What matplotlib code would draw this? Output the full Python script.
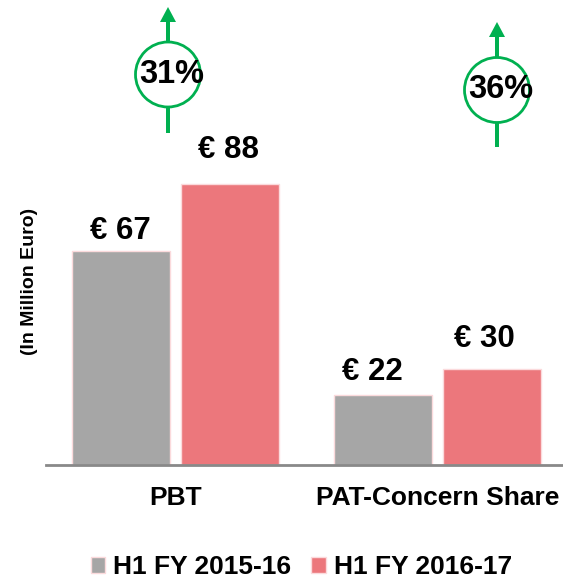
import matplotlib
matplotlib.use("Agg")
import matplotlib.pyplot as plt
from matplotlib.patches import Circle, Patch
import numpy as np

# данные графика
categories = ["PBT", "PAT-Concern Share"]
series_names = ["H1 FY 2015-16", "H1 FY 2016-17"]
values_prev = [67, 22]
values_curr = [88, 30]
growth_labels = ["31%", "36%"]

GREY = "#A6A6A6"
RED = "#EC777C"
GREEN = "#00B050"
EDGE = "#FBDADC"

plt.rcParams["font.family"] = ["Liberation Sans", "DejaVu Sans"]
plt.rcParams["font.weight"] = "bold"

fig = plt.figure(figsize=(5.63, 5.81), dpi=100)
ax = fig.add_axes([46 / 563, 116 / 581, 1 - 46 / 563, 319 / 581])

x = np.arange(len(categories))
w = 0.374
off = 0.208
b1 = ax.bar(x - off, values_prev, w, color=GREY, edgecolor=EDGE, linewidth=1)
b2 = ax.bar(x + off, values_curr, w, color=RED, edgecolor=EDGE, linewidth=1)

ax.set_xlim(-0.494, 1.479)
ax.set_ylim(0, 100)

# подписи значений (смещения в пикселях, как в оригинале)
label_shift = [(-1, 5), (-11, 8), (-1, 19), (-8, 15)]
bars = [b1[0], b1[1], b2[0], b2[1]]
vals = [values_prev[0], values_prev[1], values_curr[0], values_curr[1]]
for bar, v, (dx, dy) in zip(bars, vals, label_shift):
    ax.annotate(f"€ {v}", (bar.get_x() + bar.get_width() / 2, bar.get_height()),
                xytext=(dx * 0.72, dy * 0.72), textcoords="offset points",
                ha="center", va="bottom", fontsize=22.5, fontweight="bold")

for s in ["top", "right", "left"]:
    ax.spines[s].set_visible(False)
ax.spines["bottom"].set_color("#898989")
ax.spines["bottom"].set_linewidth(2)
ax.set_yticks([])
ax.set_xticks(x)
ax.set_xticklabels(categories, fontsize=19, fontweight="bold")
ax.tick_params(axis="x", length=0, pad=15)

fig.text(30 / 563, 1 - 281 / 581, "(In Million Euro)", rotation=90,
         ha="center", va="center", fontsize=14, fontweight="bold")

# стрелки с кружками роста
ov = fig.add_axes([0, 0, 1, 1])
ov.set_xlim(0, 563)
ov.set_ylim(581, 0)
ov.axis("off")
ov.patch.set_visible(False)
markers = [(168, 74.5, 133, 7), (497, 90, 147, 22)]
for (cx, cy, y0, y1), txt in zip(markers, growth_labels):
    ov.arrow(cx, y0, 0, y1 - y0, width=4, head_width=16, head_length=15,
             length_includes_head=True, color=GREEN, lw=0)
    ov.add_patch(Circle((cx, cy), 32.5, facecolor="white", edgecolor=GREEN,
                        lw=2, zorder=3))
    ov.text(cx + 4, cy, txt, ha="center", va="center", fontsize=23.5,
            fontweight="bold", zorder=4)

handles = [Patch(facecolor=GREY, edgecolor=EDGE), Patch(facecolor=RED, edgecolor=EDGE)]
fig.legend(handles, series_names, loc="lower center", bbox_to_anchor=(0.535, -0.038),
           ncol=2, frameon=False, handlelength=0.55, handleheight=0.55,
           handletextpad=0.3, columnspacing=0.75, prop={"weight": "bold", "size": 19})

fig.savefig("out.png", dpi=100)
